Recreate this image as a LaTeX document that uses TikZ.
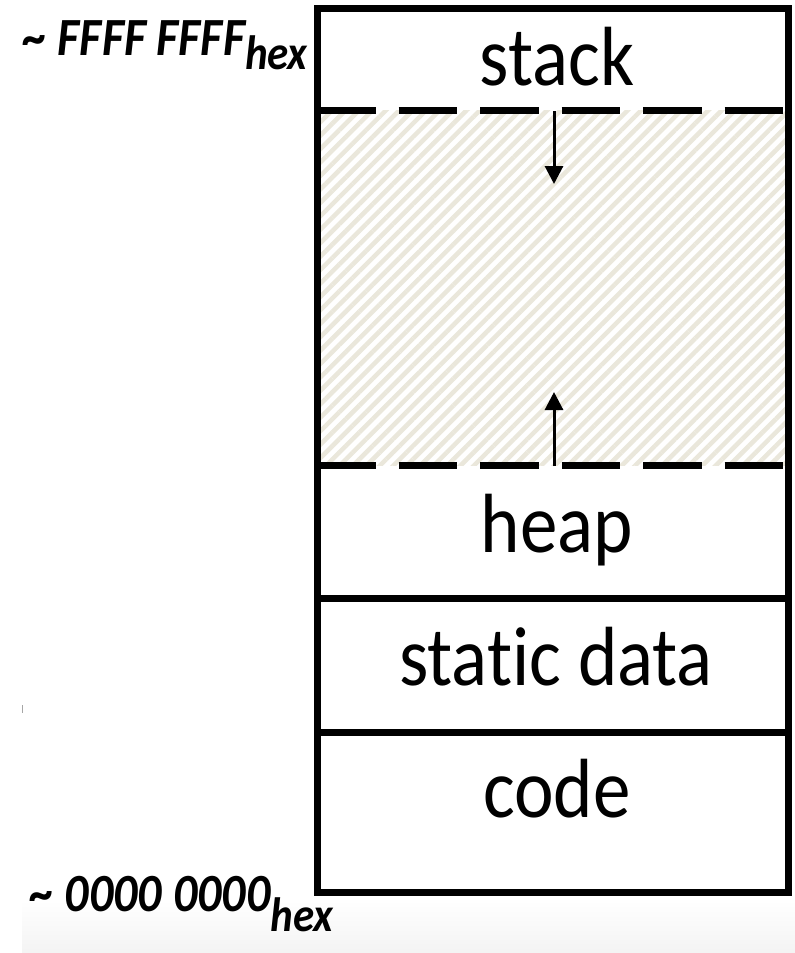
\documentclass[tikz,border=0pt]{standalone}
\usepackage{fontspec}
\setmainfont{Carlito}[Ligatures={NoCommon}]
\usetikzlibrary{arrows.meta,patterns.meta}
\definecolor{hatchcol}{RGB}{234,231,219}
\tikzset{
  boxline/.style={line width=7pt, draw=black},
  dashline/.style={line width=7pt, draw=black, dash pattern=on 58.5pt off 23pt},
  segtext/.style={anchor=base, inner sep=0pt, font=\fontsize{75}{90}\selectfont},
  addrtext/.style={anchor=base west, inner sep=0pt, font=\fontsize{48}{56}\selectfont\bfseries\itshape},
  growarrow/.style={line width=3pt, -{Triangle[width=18pt,length=18pt]}},
}
\newcommand{\hexsub}[1]{\raisebox{#1}{\fontsize{43}{50}\selectfont hex}}
\newcommand{\tall}[1]{\scalebox{1}[1.12]{#1}}
\begin{document}
\begin{tikzpicture}[x=1pt,y=-1pt]
\useasboundingbox (0,0) rectangle (795,953);
% background shading at the bottom
\fill[top color=white, bottom color=gray!9] (22,900) rectangle (795,953);
\draw[gray!70, line width=1pt] (22,705) -- (22,713);
% coordinates
\coordinate (TL) at (317,8);
\coordinate (BR) at (788,892);
% free gap hatch
\fill[white] (317,110) rectangle (788,465);
\fill[pattern={Lines[angle=45,distance=9.5pt,line width=4.5pt]}, pattern color=hatchcol] (320,110) rectangle (785,465);
% dashed boundaries
\coordinate (d1l) at (317,110); \coordinate (d1r) at (788,110);
\coordinate (d2l) at (317,465); \coordinate (d2r) at (788,465);
\draw[dashline] (d1l) -- (d1r);
\draw[dashline] (d2l) -- (d2r);
% solid separators
\coordinate (s1l) at (317,598); \coordinate (s1r) at (788,598);
\coordinate (s2l) at (317,732); \coordinate (s2r) at (788,732);
\draw[boxline] (s1l) -- (s1r);
\draw[boxline] (s2l) -- (s2r);
% outer box
\draw[boxline] (TL) rectangle (BR);
% arrows
\coordinate (a1s) at (554,111); \coordinate (a1e) at (554,184);
\coordinate (a2s) at (554,466); \coordinate (a2e) at (554,392);
\draw[growarrow] (a1s) -- (a1e);
\draw[growarrow] (a2s) -- (a2e);
% segment labels
\node[segtext] (stack) at (557,85) {\tall{stack}};
\node[segtext] (heap) at (557,552) {\tall{heap}};
\node[segtext] (static) at (556,685) {\tall{static data}};
\node[segtext] (code) at (557,817) {\tall{code}};
% address labels
\node[addrtext] (hi) at (23,55) {\tall{\textasciitilde{} FFFF FFFF\hexsub{-13pt}}};
\node[addrtext] (lo) at (30,911) {\tall{\textasciitilde{} 0000 0000\hexsub{-18pt}}};
\end{tikzpicture}
\end{document}
